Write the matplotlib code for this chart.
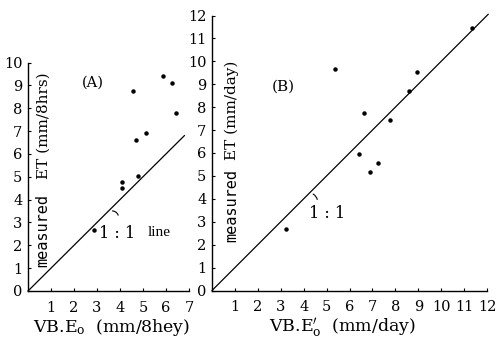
import matplotlib
matplotlib.use('Agg')
import matplotlib.pyplot as plt

plt.rcParams['font.family'] = 'DejaVu Serif'
plt.rcParams['mathtext.fontset'] = 'dejavuserif'

# --- data, panel A (mm/8hrs)
a_x = [4.55, 5.88, 6.25, 6.42, 5.12, 4.71, 4.77, 4.10, 4.09, 2.88]
a_y = [8.75, 9.40, 9.10, 7.80, 6.90, 6.60, 5.03, 4.77, 4.50, 2.65]
a_line = [0, 6.8]

# --- data, panel B (mm/day)
b_x = [5.38, 6.62, 6.43, 6.88, 7.25, 7.77, 8.60, 8.94, 11.33, 3.22]
b_y = [9.65, 7.76, 5.94, 5.18, 5.56, 7.44, 8.72, 9.52, 11.44, 2.68]
b_line = [0, 12.05]

a_xticks = [1, 2, 3, 4, 5, 6, 7]
a_yticks = list(range(0, 11))
b_xticks = list(range(1, 13))
b_yticks = list(range(0, 13))

W, H = 496, 356
fig = plt.figure(figsize=(W / 100, H / 100), dpi=100)

ax_a = fig.add_axes([28 / W, 1 - 291 / H, 161 / W, 228.5 / H])
ax_b = fig.add_axes([212 / W, 1 - 290.5 / H, 275 / W, 275 / H])


def style(ax, xmax, ymax, xticks, yticks):
    ax.set_xlim(0, xmax)
    ax.set_ylim(0, ymax)
    for s in ['top', 'right']:
        ax.spines[s].set_visible(False)
    for s in ['left', 'bottom']:
        ax.spines[s].set_linewidth(1.0)
    ax.set_xticks(xticks)
    ax.set_yticks(yticks)
    ax.tick_params(direction='in', length=2.5, width=0.8, labelsize=10.5)
    ax.tick_params(axis='x', pad=7)
    ax.tick_params(axis='y', pad=4)
    ax.patch.set_alpha(0)


style(ax_a, 7, 10, a_xticks, a_yticks)
style(ax_b, 12, 12, b_xticks, b_yticks)

# panel A
ax_a.plot(a_line, a_line, color='black', lw=0.9, clip_on=False)
ax_a.plot(a_x, a_y, 'o', color='black', ms=2.2, clip_on=False)
ax_a.text(2.8, 9.1, '(A)', ha='center', va='center', fontsize=10.5)
ax_a.text(3.08, 2.52, '1 : 1', ha='left', va='center', fontsize=11.5)
ax_a.text(5.2, 2.56, 'line', ha='left', va='center', fontsize=11,
          family='Liberation Serif')
ax_a.annotate('', xy=(3.95, 3.2), xytext=(3.55, 3.5),
              arrowprops=dict(arrowstyle='-', lw=0.8,
                              connectionstyle='arc3,rad=-0.5'))
ax_a.text(0.66, 1.05, 'measured', rotation=90, rotation_mode='anchor',
          ha='left', va='center', fontsize=11, family='DejaVu Sans Mono')
ax_a.text(0.66, 4.9, 'ET (mm/8hrs)', rotation=90, rotation_mode='anchor',
          ha='left', va='center', fontsize=11)

# panel B
ax_b.plot(b_line, b_line, color='black', lw=0.9, clip_on=False)
ax_b.plot(b_x, b_y, 'o', color='black', ms=2.2, clip_on=False)
ax_b.text(3.1, 8.9, '(B)', ha='center', va='center', fontsize=11)
ax_b.text(4.22, 3.36, '1 : 1', ha='left', va='center', fontsize=11.5)
ax_b.annotate('', xy=(4.6, 3.85), xytext=(4.3, 4.25),
              arrowprops=dict(arrowstyle='-', lw=0.8,
                              connectionstyle='arc3,rad=-0.4'))
ax_b.text(0.87, 2.1, 'measured', rotation=90, rotation_mode='anchor',
          ha='left', va='center', fontsize=11, family='DejaVu Sans Mono')
ax_b.text(0.87, 5.7, 'ET (mm/day)', rotation=90, rotation_mode='anchor',
          ha='left', va='center', fontsize=11)

# x labels
fig.text(111 / W, 1 - 328 / H, r'VB.E$_\mathrm{o}$  (mm/8hey)',
         ha='center', va='center', fontsize=12.5)
fig.text(342 / W, 1 - 328 / H, r'VB.E$^{\prime}_\mathrm{o}$  (mm/day)',
         ha='center', va='center', fontsize=12.5)

fig.savefig('out.png', dpi=100, facecolor='white')
